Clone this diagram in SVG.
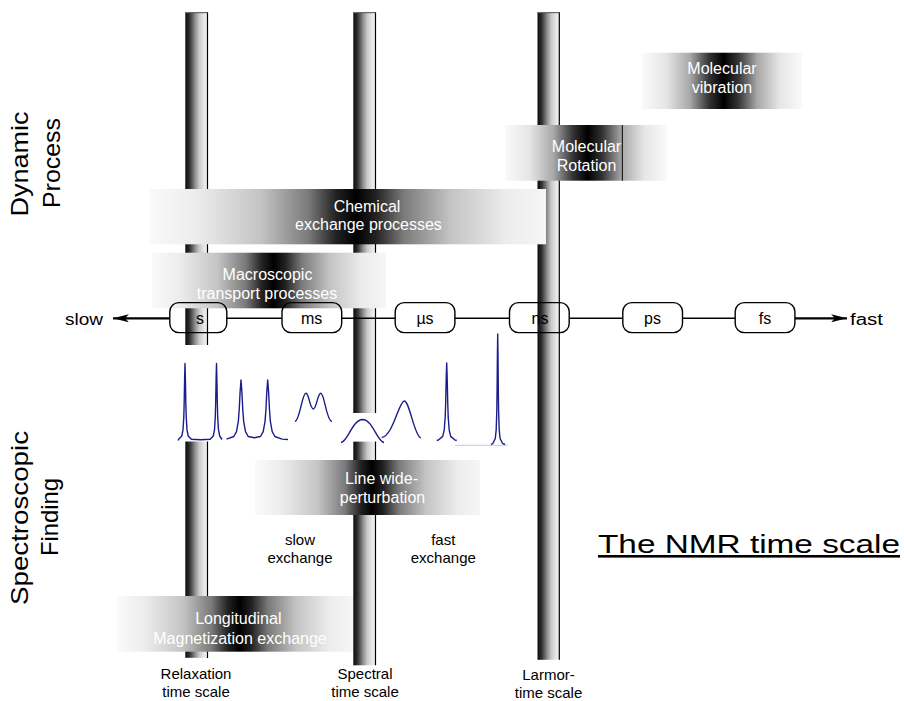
<svg xmlns="http://www.w3.org/2000/svg" width="904" height="701" viewBox="0 0 904 701">
<style>
text{font-family:"Liberation Sans",Arial,sans-serif;fill:#000}
.band text{fill:#fff;font-size:16px;text-anchor:middle}
.lbl{font-size:15px;text-anchor:middle}
.side{font-size:24px;text-anchor:middle}
.box rect{fill:none;stroke:#000;stroke-width:1.4}
.box text{font-size:16px;text-anchor:middle}
.bar .edge{stroke:#000;stroke-width:1.2}
.bar .top{stroke:#666;stroke-width:1.2}
.spec{fill:none;stroke:#1c1c8c;stroke-width:1.4;stroke-linejoin:round}
.axis{stroke:#000;fill:none}
</style>
<defs>
<linearGradient id="barG" x1="0" y1="0" x2="1" y2="0">
<stop offset="0" stop-color="#0a0a0a"/><stop offset="0.2" stop-color="#333"/><stop offset="0.42" stop-color="#888"/><stop offset="0.62" stop-color="#c8c8c8"/><stop offset="0.85" stop-color="#e8e8e8"/><stop offset="1" stop-color="#f0f0f0"/>
</linearGradient>
<linearGradient id="bandW" x1="0" y1="0" x2="1" y2="0">
<stop offset="0" stop-color="#fafafa"/><stop offset="0.12" stop-color="#ececec"/><stop offset="0.28" stop-color="#c4c4c4"/><stop offset="0.4" stop-color="#7a7a7a"/><stop offset="0.47" stop-color="#222"/><stop offset="0.52" stop-color="#000"/><stop offset="0.57" stop-color="#222"/><stop offset="0.64" stop-color="#7a7a7a"/><stop offset="0.76" stop-color="#c4c4c4"/><stop offset="0.9" stop-color="#ececec"/><stop offset="1" stop-color="#f6f6f6"/>
</linearGradient>
<linearGradient id="bandN" x1="0" y1="0" x2="1" y2="0">
<stop offset="0" stop-color="#fafafa"/><stop offset="0.15" stop-color="#e6e6e6"/><stop offset="0.3" stop-color="#a8a8a8"/><stop offset="0.42" stop-color="#333"/><stop offset="0.51" stop-color="#000"/><stop offset="0.6" stop-color="#333"/><stop offset="0.72" stop-color="#a8a8a8"/><stop offset="0.86" stop-color="#e6e6e6"/><stop offset="1" stop-color="#fafafa"/>
</linearGradient>
<marker id="ah" viewBox="0 0 16 8" refX="16" refY="4" markerWidth="16" markerHeight="8" markerUnits="userSpaceOnUse" orient="auto">
<path d="M0,0 L16,4 L0,8 L4,4 Z" fill="#000"/>
</marker>
</defs>

<g id="bar-relaxation" class="bar">
<rect x="185.3" y="12.3" width="22.4" height="645.5" fill="url(#barG)"/>
<line class="edge" x1="207.5" y1="12" x2="207.5" y2="658"/>
<line class="top" x1="185.3" y1="12.6" x2="207.7" y2="12.6"/>
</g>
<g id="bar-spectral" class="bar">
<rect x="353.3" y="12.3" width="22.4" height="653" fill="url(#barG)"/>
<line class="edge" x1="375.5" y1="12" x2="375.5" y2="665.3"/>
<line class="top" x1="353.3" y1="12.6" x2="375.7" y2="12.6"/>
</g>
<g id="bar-larmor" class="bar">
<rect x="537.5" y="12.3" width="22" height="647.5" fill="url(#barG)"/>
<line class="edge" x1="559.3" y1="12" x2="559.3" y2="659.8"/>
<line class="top" x1="537.5" y1="12.6" x2="559.5" y2="12.6"/>
</g>

<g id="band-vibration" class="band">
<rect x="642" y="52.7" width="160" height="56.3" fill="url(#bandN)"/>
<text x="722" y="74.3">Molecular</text>
<text x="722" y="93.3">vibration</text>
</g>
<g id="band-rotation" class="band">
<rect x="505" y="125" width="162" height="55.7" fill="url(#bandN)"/>
<line x1="622.3" y1="125" x2="622.3" y2="180.7" stroke="#000" stroke-width="1"/>
<text x="586.5" y="152.3">Molecular</text>
<text x="586.5" y="170.7">Rotation</text>
</g>
<g id="band-chemical" class="band">
<rect x="150" y="189" width="396" height="55.3" fill="url(#bandW)"/>
<text x="367" y="212.3">Chemical</text>
<text x="368.5" y="230">exchange processes</text>
</g>
<g id="band-macroscopic" class="band">
<rect x="152" y="252.7" width="234" height="55.6" fill="url(#bandW)"/>
<text x="267.5" y="280">Macroscopic</text>
<text x="267" y="299">transport processes</text>
</g>

<g id="connectors">
<line class="axis" x1="227" y1="318.3" x2="282" y2="318.3" stroke-width="1.4"/>
<line class="axis" x1="341.7" y1="318.3" x2="395" y2="318.3" stroke-width="1.4"/>
<line class="axis" x1="455" y1="318.3" x2="509.3" y2="318.3" stroke-width="1.4"/>
<line class="axis" x1="569.3" y1="318.3" x2="622.7" y2="318.3" stroke-width="1.4"/>
<line class="axis" x1="682.7" y1="318.3" x2="735" y2="318.3" stroke-width="1.4"/>
<line class="axis" x1="169.3" y1="318.3" x2="113" y2="318.3" stroke-width="2.2" marker-end="url(#ah)"/>
<line class="axis" x1="795" y1="318.3" x2="847" y2="318.3" stroke-width="2.2" marker-end="url(#ah)"/>
</g>

<g id="box-s" class="box"><rect x="169.8" y="302.6" width="57" height="30" rx="9"/><text x="200" y="323.5">s</text></g>
<g id="box-ms" class="box"><rect x="282" y="302.6" width="59.7" height="30" rx="9"/><text x="311.7" y="323.5">ms</text></g>
<g id="box-us" class="box"><rect x="395.2" y="302.6" width="59.7" height="30" rx="9"/><text x="425" y="323.5">µs</text></g>
<g id="box-ns" class="box"><rect x="509.5" y="302.6" width="59.7" height="30" rx="9"/><text x="540" y="323.5">ns</text></g>
<g id="box-ps" class="box"><rect x="622.8" y="302.6" width="59.7" height="30" rx="9"/><text x="652.5" y="323.5">ps</text></g>
<g id="box-fs" class="box"><rect x="735.2" y="302.6" width="59.7" height="30" rx="9"/><text x="765" y="323.5">fs</text></g>

<text x="65" y="324.5" font-size="16" textLength="38" lengthAdjust="spacingAndGlyphs">slow</text>
<text x="850" y="324.5" font-size="16" textLength="33" lengthAdjust="spacingAndGlyphs">fast</text>

<g id="spectra">
<rect x="178" y="345" width="44" height="96.5" fill="#fff"/>
<rect x="338" y="413" width="48" height="28.6" fill="#fff"/>
<polyline class="spec" points="178,440.5 178.6,439.3 181.8,436 183,429.9 183.8,416.8 184.2,402 184.6,378.9 185,363.5 185.4,378.9 185.8,402 186.2,416.8 187,429.9 188.2,436 191.4,439.3 200.7,439.7 210.1,439.3 213.3,436 214.5,429.9 215.3,416.8 215.7,402 216.1,378.9 216.5,363.5 216.9,378.9 217.3,402 217.7,416.8 218.5,429.9 219.7,436 222,439.5"/>
<polyline class="spec" points="226.6,439.1 233.8,436.5 236.5,431.7 238.3,421.6 239.2,410 240.1,392 241,380 241.9,392 242.8,410 243.7,421.6 245.5,431.7 248.2,436.5 254.35,437.8 260.5,436.5 263.2,431.7 265,421.6 265.9,410 266.8,392 267.7,380 268.6,392 269.5,410 270.4,421.6 272.2,431.7 274.9,436.5 282.1,439.1 288,439.5"/>
<path class="spec" d="M295,421.5 C300,420 302,393 306,393.3 C309,393.5 310,409 313.3,409 C316.5,409 317.5,393.5 320.7,393.3 C324.5,393 326,420 332,421.7"/>
<path class="spec" d="M341,442.5 C348,441.5 352,420 362.7,419.5 C373,420 377,441.5 384,442.5"/>
<path class="spec" d="M381.7,437.5 C393,436 399,401 404.3,401 C409.5,401 414,435 420.7,438"/>
<polyline class="spec" points="436.7,440.5 438.7,439.8 442.7,436.4 444.2,430.2 445.2,417 445.7,402 446.2,378.6 446.7,363 447.2,378.6 447.7,402 448.2,417 449.2,430.2 450.7,436.4 454.7,439.8 456.7,440.5"/>
<line x1="455" y1="445.3" x2="508" y2="445.3" stroke="#c8c8dc" stroke-width="1"/>
<polyline class="spec" points="491,444.5 492.9,443.3 495.3,438.5 496.2,429.7 496.8,410.8 497.1,389.5 497.4,356.2 497.7,334 498,356.2 498.3,389.5 498.6,410.8 499.2,429.7 500.1,438.5 502.5,443.3 505,444.5"/>
</g>

<g id="band-linewidth" class="band">
<rect x="255" y="460" width="225" height="55" fill="url(#bandW)"/>
<text x="381.5" y="484.3">Line wide-</text>
<text x="382.5" y="503.3">perturbation</text>
</g>

<text class="lbl" x="300" y="545" font-size="15.5">slow</text>
<text class="lbl" x="300" y="563">exchange</text>
<text class="lbl" x="443.3" y="545">fast</text>
<text class="lbl" x="443.3" y="563">exchange</text>

<g id="band-longitudinal" class="band">
<rect x="117" y="596" width="236" height="55.7" fill="url(#bandW)"/>
<text x="238.3" y="624.3">Longitudinal</text>
<text x="240" y="644.3">Magnetization exchange</text>
</g>

<text class="lbl" x="196" y="678.5">Relaxation</text>
<text class="lbl" x="196" y="696.5">time scale</text>
<text class="lbl" x="365" y="678.5">Spectral</text>
<text class="lbl" x="365" y="696.5">time scale</text>
<text class="lbl" x="548.5" y="679.5">Larmor-</text>
<text class="lbl" x="548.5" y="697.5">time scale</text>

<text class="side" transform="translate(28,164) rotate(-90)" textLength="105" lengthAdjust="spacingAndGlyphs">Dynamic</text>
<text class="side" transform="translate(60,163) rotate(-90)" textLength="90" lengthAdjust="spacingAndGlyphs">Process</text>
<text class="side" transform="translate(28,518) rotate(-90)" textLength="174" lengthAdjust="spacingAndGlyphs">Spectroscopic</text>
<text class="side" transform="translate(58,517) rotate(-90)" textLength="78" lengthAdjust="spacingAndGlyphs">Finding</text>

<text x="598" y="553" font-size="26" textLength="302" lengthAdjust="spacingAndGlyphs" text-decoration="underline">The NMR time scale</text>
</svg>
